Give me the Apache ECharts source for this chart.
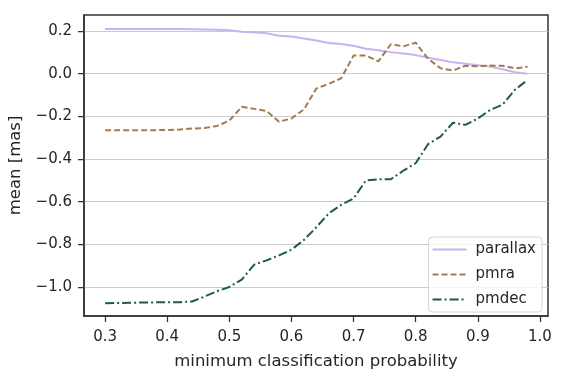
<!DOCTYPE html>
<html lang="en">
<head>
    <meta charset="UTF-8">
    <title>mean vs minimum classification probability</title>
    <style>
        html, body { margin: 0; padding: 0; background: #fff; }
        #box { width: 564px; height: 379px; }
    </style>
</head>
<body>
    <div id="box"></div>
    <script src="https://cdn.jsdelivr.net/npm/echarts@6/dist/echarts.min.js"></script>
    <script>
        // x: minimum classification probability
        var probs = [0.30, 0.32, 0.34, 0.36, 0.38, 0.40, 0.42, 0.44, 0.46, 0.48,
            0.50, 0.52, 0.54, 0.56, 0.58, 0.60, 0.62, 0.64, 0.66, 0.68,
            0.70, 0.72, 0.74, 0.76, 0.78, 0.80, 0.82, 0.84, 0.86, 0.88,
            0.90, 0.92, 0.94, 0.96, 0.98];

        var parallax = [0.209, 0.209, 0.209, 0.209, 0.209, 0.209, 0.209, 0.208, 0.207, 0.206,
            0.204, 0.197, 0.194, 0.189, 0.178, 0.174, 0.165, 0.155, 0.144, 0.139,
            0.131, 0.117, 0.110, 0.101, 0.094, 0.087, 0.075, 0.064, 0.053, 0.047,
            0.040, 0.033, 0.021, 0.007, 0.000];

        var pmra = [-0.265, -0.265, -0.265, -0.265, -0.265, -0.264, -0.262, -0.257, -0.255, -0.245,
            -0.220, -0.155, -0.165, -0.175, -0.225, -0.210, -0.168, -0.070, -0.048, -0.022,
            0.085, 0.085, 0.058, 0.138, 0.128, 0.145, 0.070, 0.025, 0.015, 0.037,
            0.035, 0.038, 0.037, 0.025, 0.032];

        var pmdec = [-1.076, -1.075, -1.074, -1.073, -1.072, -1.071, -1.071, -1.068, -1.045, -1.020,
            -1.000, -0.965, -0.895, -0.875, -0.852, -0.825, -0.780, -0.720, -0.655, -0.615,
            -0.585, -0.500, -0.495, -0.495, -0.455, -0.420, -0.330, -0.295, -0.230, -0.240,
            -0.210, -0.170, -0.145, -0.075, -0.030];

        var xTicks = [0.3, 0.4, 0.5, 0.6, 0.7, 0.8, 0.9, 1.0];
        var yTicks = [-1.0, -0.8, -0.6, -0.4, -0.2, 0.0, 0.2];

        function pairs(ys) {
            return probs.map(function (x, i) { return [x, ys[i]]; });
        }

        var font = 'DejaVu Sans';
        var ink = '#262626';

        var myChart = echarts.init(document.getElementById('box'));

        var option = {
            animation: false,
            backgroundColor: '#fff',
            // grid border gives the full box frame
            grid: {
                left: 84, right: 16, top: 15, bottom: 63, containLabel: false,
                outerBoundsMode: 'none',
                show: true, borderColor: '#333', borderWidth: 1.5, backgroundColor: 'transparent'
            },
            legend: {
                right: 22,
                bottom: 67,
                orient: 'vertical',
                itemWidth: 34,
                itemHeight: 12,
                itemGap: 10,
                itemStyle: { opacity: 0 },
                backgroundColor: 'rgba(255,255,255,0.8)',
                borderColor: '#d6d6d6',
                borderWidth: 1,
                borderRadius: 4,
                padding: [5, 6, 5, 3],
                textStyle: { fontFamily: font, fontSize: 15, color: ink, padding: [0, 0, 0, 4] },
                data: ['parallax', 'pmra', 'pmdec']
            },
            xAxis: {
                type: 'value',
                min: 0.266,
                max: 1.013,
                name: 'minimum classification probability',
                nameLocation: 'middle',
                nameGap: 37,
                nameTextStyle: { fontFamily: font, fontSize: 16.5, color: ink },
                axisLine: { show: true, onZero: false, lineStyle: { color: '#333', width: 1.5 } },
                axisTick: { show: true, customValues: xTicks, length: 6, lineStyle: { color: '#333', width: 1.25 } },
                axisLabel: {
                    customValues: xTicks,
                    fontFamily: font, fontSize: 15, color: ink, margin: 14,
                    formatter: function (v) { return v.toFixed(1); }
                },
                splitLine: { show: false }
            },
            yAxis: {
                type: 'value',
                min: -1.136,
                max: 0.275,
                name: 'mean [mas]',
                nameLocation: 'middle',
                nameGap: 57,
                nameTextStyle: { fontFamily: font, fontSize: 16.5, color: ink },
                axisLine: { show: true, onZero: false, lineStyle: { color: '#333', width: 1.5 } },
                axisTick: { show: true, customValues: yTicks, length: 6, lineStyle: { color: '#333', width: 1.25 } },
                axisLabel: {
                    customValues: yTicks,
                    fontFamily: font, fontSize: 15, color: ink, margin: 12,
                    formatter: function (v) { return (v < 0 ? '\u2212' : '') + Math.abs(v).toFixed(1); }
                },
                splitLine: { show: true, lineStyle: { color: '#cccccc', width: 1 } }
            },
            series: [
                {
                    name: 'parallax', type: 'line', data: pairs(parallax),
                    symbol: 'none', z: 3,
                    lineStyle: { color: '#c6b3f0', width: 2, type: 'solid' },
                    itemStyle: { color: '#c6b3f0' }
                },
                {
                    name: 'pmra', type: 'line', data: pairs(pmra),
                    symbol: 'none', z: 3,
                    lineStyle: { color: '#a57a4c', width: 2, type: [6, 3] },
                    itemStyle: { color: '#a57a4c' }
                },
                {
                    name: 'pmdec', type: 'line', data: pairs(pmdec),
                    symbol: 'none', z: 3,
                    lineStyle: { color: '#1d5a4f', width: 2, type: [9, 3, 2, 3] },
                    itemStyle: { color: '#1d5a4f' }
                }
            ]
        };

        option && myChart.setOption(option);
    </script>
</body>
</html>
